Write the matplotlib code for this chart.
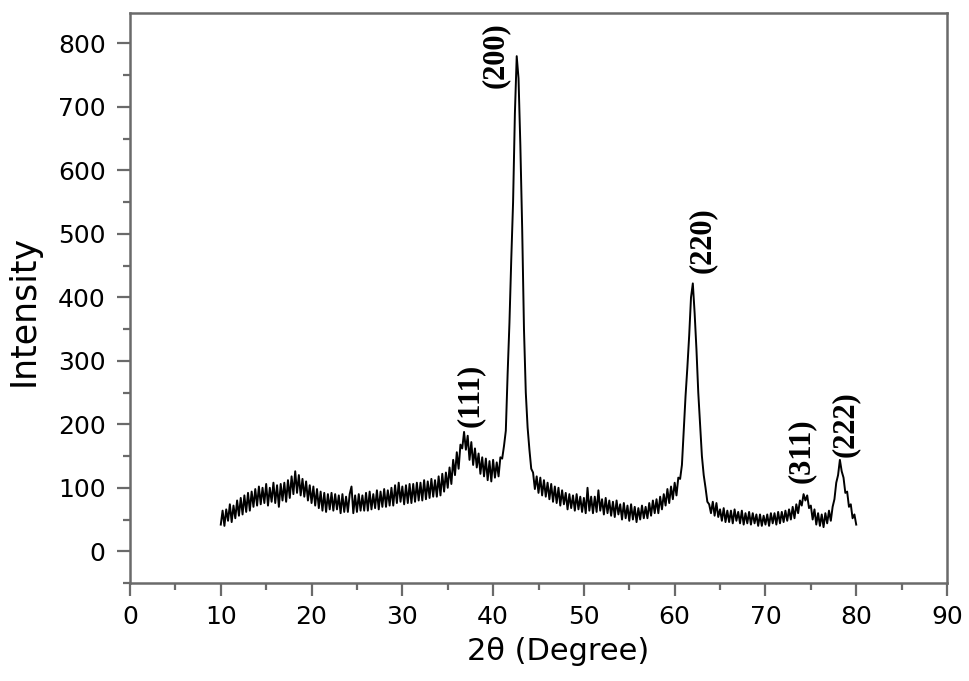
import numpy as np
import matplotlib
matplotlib.use("Agg")
import matplotlib.pyplot as plt

# 2-theta grid (degrees), 0.2 deg steps from 10 to 80
two_theta = np.round(np.arange(10.0, 80.0001, 0.2), 1)

# Intensity readings (one row per degree: d.0, d.2, d.4, d.6, d.8)
intensity = [
    42, 64, 40, 66, 48,        # 10
    74, 46, 72, 52, 80,        # 11
    56, 84, 58, 88, 62,        # 12
    92, 64, 94, 70, 98,        # 13
    72, 102, 74, 100, 76,      # 14
    106, 72, 100, 78, 108,     # 15
    76, 104, 70, 106, 80,      # 16
    108, 78, 112, 84, 118,     # 17
    90, 126, 92, 120, 88,      # 18
    114, 86, 110, 80, 104,     # 19
    76, 102, 72, 98, 68,       # 20
    94, 64, 92, 62, 90,        # 21
    66, 92, 64, 90, 66,        # 22
    88, 60, 90, 62, 86,        # 23
    62, 90, 102, 60, 88,       # 24
    62, 90, 64, 88, 64,        # 25
    92, 64, 94, 66, 90,        # 26
    68, 96, 66, 94, 70,        # 27
    98, 70, 96, 72, 100,       # 28
    72, 104, 76, 108, 78,      # 29
    102, 74, 104, 76, 106,     # 30
    76, 106, 78, 108, 80,      # 31
    108, 80, 112, 82, 110,     # 32
    84, 114, 86, 112, 86,      # 33
    118, 88, 122, 94, 124,     # 34
    100, 132, 106, 144, 120,   # 35
    156, 130, 168, 162, 188,   # 36
    160, 182, 144, 172, 136,   # 37
    162, 132, 154, 122, 148,   # 38
    118, 146, 112, 142, 110,   # 39
    144, 116, 140, 118, 148,   # 40
    146, 166, 190, 280, 360,   # 41
    460, 550, 690, 780, 745,   # 42
    640, 510, 350, 250, 195,   # 43
    160, 130, 124, 98, 118,    # 44
    92, 116, 88, 112, 86,      # 45
    108, 82, 106, 78, 102,     # 46
    76, 100, 72, 96, 74,       # 47
    92, 66, 90, 68, 88,        # 48
    64, 90, 66, 86, 62,        # 49
    84, 60, 100, 64, 86,       # 50
    60, 86, 62, 96, 64,        # 51
    82, 58, 84, 60, 80,        # 52
    56, 78, 54, 80, 58,        # 53
    74, 50, 76, 52, 72,        # 54
    48, 74, 50, 70, 46,        # 55
    68, 50, 72, 52, 70,        # 56
    52, 76, 56, 80, 60,        # 57
    82, 60, 86, 66, 90,        # 58
    72, 98, 76, 102, 82,       # 59
    108, 88, 116, 114, 136,    # 60
    190, 245, 290, 340, 400,   # 61
    422, 375, 318, 250, 200,   # 62
    150, 120, 100, 78, 74,     # 63
    60, 78, 56, 76, 54,        # 64
    66, 48, 68, 46, 64,        # 65
    46, 64, 44, 66, 48,        # 66
    62, 44, 64, 42, 60,        # 67
    44, 62, 42, 60, 44,        # 68
    58, 40, 58, 40, 56,        # 69
    42, 58, 40, 60, 44,        # 70
    60, 42, 62, 44, 62,        # 71
    46, 64, 48, 66, 50,        # 72
    70, 52, 74, 60, 80,        # 73
    72, 90, 80, 88, 68,        # 74
    72, 50, 66, 42, 60,        # 75
    40, 58, 38, 60, 44,        # 76
    64, 48, 70, 82, 108,       # 77
    120, 144, 126, 116, 92,    # 78
    94, 70, 74, 52, 58,        # 79
    42,                        # 80
]

peak_labels = ["(111)", "(200)", "(220)", "(311)", "(222)"]
peak_label_x = [37.5, 40.2, 63.0, 74.0, 78.8]
peak_label_y = [196, 730, 439, 108, 148]

x_ticks = [0, 10, 20, 30, 40, 50, 60, 70, 80, 90]
y_ticks = [0, 100, 200, 300, 400, 500, 600, 700, 800]

W, H = 969, 681
fig = plt.figure(figsize=(W / 100, H / 100), dpi=100)
ax = fig.add_axes([130 / W, 1 - 583 / H, (947 - 130) / W, (583 - 13) / H])

ax.plot(two_theta, intensity, color="black", linewidth=1.4)

ax.set_xlim(0, 90)
ax.set_ylim(-50, 848)
ax.set_xticks(x_ticks)
ax.set_yticks(y_ticks)
ax.set_xticks(np.arange(5, 90, 10), minor=True)
ax.set_yticks(np.arange(-50, 850, 100), minor=True)

spine_color = "#6a6a6a"
for s in ax.spines.values():
    s.set_color(spine_color)
    s.set_linewidth(1.8)

ax.tick_params(which="both", direction="out", color=spine_color, width=1.6,
               top=False, right=False)
ax.tick_params(which="major", length=9.5)
ax.tick_params(which="minor", length=5)
ax.tick_params(axis="y", which="major", pad=8, labelsize=18)
ax.tick_params(axis="x", which="major", pad=6, labelsize=18)
for lab in ax.get_xticklabels() + ax.get_yticklabels():
    lab.set_family("DejaVu Sans")

ax.set_xlabel("2θ (Degree)", fontsize=22, family="DejaVu Sans")
ax.xaxis.set_label_coords((558.5 - 130) / 817, -0.095)
ax.set_ylabel("Intensity", fontsize=25, family="DejaVu Sans")
ax.yaxis.set_label_coords(-0.11, (583 - 310) / 570)

for lab, px, py in zip(peak_labels, peak_label_x, peak_label_y):
    ax.text(px, py, lab, rotation=90, ha="center", va="bottom",
            fontsize=22, family="Liberation Serif", fontweight="bold")

fig.savefig("out.png", dpi=100)
